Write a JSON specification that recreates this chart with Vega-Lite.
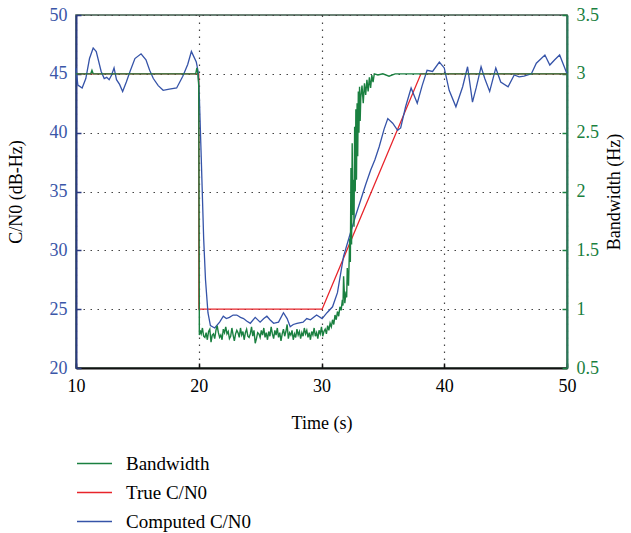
{
  "$schema": "https://vega.github.io/schema/vega-lite/v6.json",
  "width": 491,
  "height": 353,
  "autosize": {"type": "none"},
  "padding": {"left": 76, "top": 15, "right": 64, "bottom": 165},
  "background": "white",
  "config": {
    "font": "Liberation Serif",
    "view": {"stroke": "#3d5a4a", "strokeWidth": 1.5},
    "axis": {"labelFont": "Liberation Serif", "titleFont": "Liberation Serif", "titleFontWeight": "normal", "labelFontSize": 18, "titleFontSize": 18, "tickSize": -5, "tickWidth": 1.5, "domainWidth": 2, "gridDash": [1.5, 5.5], "gridColor": "#444", "gridWidth": 1.2, "titleColor": "black"},
    "legend": {"labelFont": "Liberation Serif", "labelFontSize": 19}
  },
  "data": {"values": [
    {"t": 10, "v": 45, "s": "True C/N0"},
    {"t": 20, "v": 45, "s": "True C/N0"},
    {"t": 20.01, "v": 25, "s": "True C/N0"},
    {"t": 30.05, "v": 25, "s": "True C/N0"},
    {"t": 38.1, "v": 45, "s": "True C/N0"},
    {"t": 50, "v": 45, "s": "True C/N0"},

    {"t": 10, "v": 45.5, "s": "Computed C/N0"},
    {"t": 10.15, "v": 44.05, "s": "Computed C/N0"},
    {"t": 10.5, "v": 43.8, "s": "Computed C/N0"},
    {"t": 10.8, "v": 44.6, "s": "Computed C/N0"},
    {"t": 11.1, "v": 46.3, "s": "Computed C/N0"},
    {"t": 11.4, "v": 47.2, "s": "Computed C/N0"},
    {"t": 11.65, "v": 46.9, "s": "Computed C/N0"},
    {"t": 12.05, "v": 45.2, "s": "Computed C/N0"},
    {"t": 12.3, "v": 44.6, "s": "Computed C/N0"},
    {"t": 12.5, "v": 44.7, "s": "Computed C/N0"},
    {"t": 12.7, "v": 44.5, "s": "Computed C/N0"},
    {"t": 12.9, "v": 44.9, "s": "Computed C/N0"},
    {"t": 13.1, "v": 45.5, "s": "Computed C/N0"},
    {"t": 13.3, "v": 44.5, "s": "Computed C/N0"},
    {"t": 13.55, "v": 44.1, "s": "Computed C/N0"},
    {"t": 13.8, "v": 43.5, "s": "Computed C/N0"},
    {"t": 14.1, "v": 44.3, "s": "Computed C/N0"},
    {"t": 14.4, "v": 45.2, "s": "Computed C/N0"},
    {"t": 14.8, "v": 46.3, "s": "Computed C/N0"},
    {"t": 15.3, "v": 46.7, "s": "Computed C/N0"},
    {"t": 15.7, "v": 46.2, "s": "Computed C/N0"},
    {"t": 16.0, "v": 45.3, "s": "Computed C/N0"},
    {"t": 16.3, "v": 44.6, "s": "Computed C/N0"},
    {"t": 16.7, "v": 44.0, "s": "Computed C/N0"},
    {"t": 17.1, "v": 43.6, "s": "Computed C/N0"},
    {"t": 17.6, "v": 43.7, "s": "Computed C/N0"},
    {"t": 18.2, "v": 43.8, "s": "Computed C/N0"},
    {"t": 18.7, "v": 44.8, "s": "Computed C/N0"},
    {"t": 19.1, "v": 45.8, "s": "Computed C/N0"},
    {"t": 19.4, "v": 46.9, "s": "Computed C/N0"},
    {"t": 19.8, "v": 46.0, "s": "Computed C/N0"},
    {"t": 19.95, "v": 45.2, "s": "Computed C/N0"},
    {"t": 20.05, "v": 43.0, "s": "Computed C/N0"},
    {"t": 20.2, "v": 38.0, "s": "Computed C/N0"},
    {"t": 20.4, "v": 31.0, "s": "Computed C/N0"},
    {"t": 20.55, "v": 27.5, "s": "Computed C/N0"},
    {"t": 20.75, "v": 24.7, "s": "Computed C/N0"},
    {"t": 20.95, "v": 23.6, "s": "Computed C/N0"},
    {"t": 21.3, "v": 23.4, "s": "Computed C/N0"},
    {"t": 21.7, "v": 23.9, "s": "Computed C/N0"},
    {"t": 22.0, "v": 24.4, "s": "Computed C/N0"},
    {"t": 22.25, "v": 24.2, "s": "Computed C/N0"},
    {"t": 22.5, "v": 24.3, "s": "Computed C/N0"},
    {"t": 22.8, "v": 24.5, "s": "Computed C/N0"},
    {"t": 23.1, "v": 24.5, "s": "Computed C/N0"},
    {"t": 23.4, "v": 24.3, "s": "Computed C/N0"},
    {"t": 23.65, "v": 24.2, "s": "Computed C/N0"},
    {"t": 23.9, "v": 24.0, "s": "Computed C/N0"},
    {"t": 24.2, "v": 23.8, "s": "Computed C/N0"},
    {"t": 24.6, "v": 24.3, "s": "Computed C/N0"},
    {"t": 25.0, "v": 23.9, "s": "Computed C/N0"},
    {"t": 25.3, "v": 24.2, "s": "Computed C/N0"},
    {"t": 25.55, "v": 24.4, "s": "Computed C/N0"},
    {"t": 25.8, "v": 24.1, "s": "Computed C/N0"},
    {"t": 26.1, "v": 23.8, "s": "Computed C/N0"},
    {"t": 26.5, "v": 23.9, "s": "Computed C/N0"},
    {"t": 26.9, "v": 24.7, "s": "Computed C/N0"},
    {"t": 27.2, "v": 24.2, "s": "Computed C/N0"},
    {"t": 27.45, "v": 23.5, "s": "Computed C/N0"},
    {"t": 27.7, "v": 23.7, "s": "Computed C/N0"},
    {"t": 28.0, "v": 23.8, "s": "Computed C/N0"},
    {"t": 28.5, "v": 23.9, "s": "Computed C/N0"},
    {"t": 28.8, "v": 24.2, "s": "Computed C/N0"},
    {"t": 29.1, "v": 24.1, "s": "Computed C/N0"},
    {"t": 29.6, "v": 24.5, "s": "Computed C/N0"},
    {"t": 30.05, "v": 24.2, "s": "Computed C/N0"},
    {"t": 30.45, "v": 24.7, "s": "Computed C/N0"},
    {"t": 30.9, "v": 25.2, "s": "Computed C/N0"},
    {"t": 31.3, "v": 26.4, "s": "Computed C/N0"},
    {"t": 31.8, "v": 29.5, "s": "Computed C/N0"},
    {"t": 32.35, "v": 31.45, "s": "Computed C/N0"},
    {"t": 32.8, "v": 33.0, "s": "Computed C/N0"},
    {"t": 33.2, "v": 34.3, "s": "Computed C/N0"},
    {"t": 33.6, "v": 35.6, "s": "Computed C/N0"},
    {"t": 34.0, "v": 36.8, "s": "Computed C/N0"},
    {"t": 34.35, "v": 37.7, "s": "Computed C/N0"},
    {"t": 34.7, "v": 38.8, "s": "Computed C/N0"},
    {"t": 35.1, "v": 40.3, "s": "Computed C/N0"},
    {"t": 35.4, "v": 41.2, "s": "Computed C/N0"},
    {"t": 35.8, "v": 40.8, "s": "Computed C/N0"},
    {"t": 36.2, "v": 40.2, "s": "Computed C/N0"},
    {"t": 36.45, "v": 40.4, "s": "Computed C/N0"},
    {"t": 36.85, "v": 42.2, "s": "Computed C/N0"},
    {"t": 37.3, "v": 43.8, "s": "Computed C/N0"},
    {"t": 37.8, "v": 42.5, "s": "Computed C/N0"},
    {"t": 38.2, "v": 44.0, "s": "Computed C/N0"},
    {"t": 38.6, "v": 45.3, "s": "Computed C/N0"},
    {"t": 39.05, "v": 45.2, "s": "Computed C/N0"},
    {"t": 39.6, "v": 46.0, "s": "Computed C/N0"},
    {"t": 40.0, "v": 45.5, "s": "Computed C/N0"},
    {"t": 40.4, "v": 43.6, "s": "Computed C/N0"},
    {"t": 40.95, "v": 42.2, "s": "Computed C/N0"},
    {"t": 41.5, "v": 43.9, "s": "Computed C/N0"},
    {"t": 41.9, "v": 45.6, "s": "Computed C/N0"},
    {"t": 42.3, "v": 42.6, "s": "Computed C/N0"},
    {"t": 42.6, "v": 43.8, "s": "Computed C/N0"},
    {"t": 43.0, "v": 45.6, "s": "Computed C/N0"},
    {"t": 43.3, "v": 44.6, "s": "Computed C/N0"},
    {"t": 43.7, "v": 43.5, "s": "Computed C/N0"},
    {"t": 44.2, "v": 45.5, "s": "Computed C/N0"},
    {"t": 44.6, "v": 44.3, "s": "Computed C/N0"},
    {"t": 45.2, "v": 43.9, "s": "Computed C/N0"},
    {"t": 45.7, "v": 44.9, "s": "Computed C/N0"},
    {"t": 46.1, "v": 44.75, "s": "Computed C/N0"},
    {"t": 46.5, "v": 44.8, "s": "Computed C/N0"},
    {"t": 47.1, "v": 45.0, "s": "Computed C/N0"},
    {"t": 47.5, "v": 45.9, "s": "Computed C/N0"},
    {"t": 48.2, "v": 46.6, "s": "Computed C/N0"},
    {"t": 48.6, "v": 45.75, "s": "Computed C/N0"},
    {"t": 49.0, "v": 46.2, "s": "Computed C/N0"},
    {"t": 49.4, "v": 46.6, "s": "Computed C/N0"},
    {"t": 50.0, "v": 45.0, "s": "Computed C/N0"},

    {"t": 10, "v": 3.0, "s": "Bandwidth"},
    {"t": 11.2, "v": 3.0, "s": "Bandwidth"},
    {"t": 11.3, "v": 3.03, "s": "Bandwidth"},
    {"t": 11.4, "v": 3.0, "s": "Bandwidth"},
    {"t": 15, "v": 3.0, "s": "Bandwidth"},
    {"t": 19.75, "v": 3.0, "s": "Bandwidth"},
    {"t": 19.85, "v": 3.05, "s": "Bandwidth"},
    {"t": 19.93, "v": 3.0, "s": "Bandwidth"},
    {"t": 20.0, "v": 2.9, "s": "Bandwidth"},
    {"t": 20.05, "v": 0.78, "s": "Bandwidth"},
    {"t": 20.1, "v": 0.82, "s": "Bandwidth"},
    {"t": 20.2, "v": 0.79, "s": "Bandwidth"},
    {"t": 20.3, "v": 0.84, "s": "Bandwidth"},
    {"t": 20.4, "v": 0.77, "s": "Bandwidth"},
    {"t": 20.5, "v": 0.76, "s": "Bandwidth"},
    {"t": 20.6, "v": 0.80, "s": "Bandwidth"},
    {"t": 20.7, "v": 0.74, "s": "Bandwidth"},
    {"t": 20.8, "v": 0.81, "s": "Bandwidth"},
    {"t": 20.9, "v": 0.83, "s": "Bandwidth"},
    {"t": 21.0, "v": 0.72, "s": "Bandwidth"},
    {"t": 21.1, "v": 0.78, "s": "Bandwidth"},
    {"t": 21.2, "v": 0.79, "s": "Bandwidth"},
    {"t": 21.3, "v": 0.75, "s": "Bandwidth"},
    {"t": 21.4, "v": 0.82, "s": "Bandwidth"},
    {"t": 21.5, "v": 0.86, "s": "Bandwidth"},
    {"t": 21.6, "v": 0.80, "s": "Bandwidth"},
    {"t": 21.7, "v": 0.76, "s": "Bandwidth"},
    {"t": 21.8, "v": 0.78, "s": "Bandwidth"},
    {"t": 21.9, "v": 0.74, "s": "Bandwidth"},
    {"t": 22.0, "v": 0.83, "s": "Bandwidth"},
    {"t": 22.1, "v": 0.80, "s": "Bandwidth"},
    {"t": 22.2, "v": 0.85, "s": "Bandwidth"},
    {"t": 22.3, "v": 0.79, "s": "Bandwidth"},
    {"t": 22.4, "v": 0.81, "s": "Bandwidth"},
    {"t": 22.5, "v": 0.75, "s": "Bandwidth"},
    {"t": 22.6, "v": 0.77, "s": "Bandwidth"},
    {"t": 22.7, "v": 0.84, "s": "Bandwidth"},
    {"t": 22.8, "v": 0.78, "s": "Bandwidth"},
    {"t": 22.9, "v": 0.73, "s": "Bandwidth"},
    {"t": 23.0, "v": 0.79, "s": "Bandwidth"},
    {"t": 23.1, "v": 0.82, "s": "Bandwidth"},
    {"t": 23.2, "v": 0.80, "s": "Bandwidth"},
    {"t": 23.3, "v": 0.76, "s": "Bandwidth"},
    {"t": 23.4, "v": 0.84, "s": "Bandwidth"},
    {"t": 23.5, "v": 0.78, "s": "Bandwidth"},
    {"t": 23.6, "v": 0.81, "s": "Bandwidth"},
    {"t": 23.7, "v": 0.74, "s": "Bandwidth"},
    {"t": 23.8, "v": 0.80, "s": "Bandwidth"},
    {"t": 23.9, "v": 0.83, "s": "Bandwidth"},
    {"t": 24.0, "v": 0.77, "s": "Bandwidth"},
    {"t": 24.1, "v": 0.76, "s": "Bandwidth"},
    {"t": 24.2, "v": 0.79, "s": "Bandwidth"},
    {"t": 24.3, "v": 0.85, "s": "Bandwidth"},
    {"t": 24.4, "v": 0.77, "s": "Bandwidth"},
    {"t": 24.5, "v": 0.82, "s": "Bandwidth"},
    {"t": 24.6, "v": 0.71, "s": "Bandwidth"},
    {"t": 24.7, "v": 0.75, "s": "Bandwidth"},
    {"t": 24.8, "v": 0.80, "s": "Bandwidth"},
    {"t": 24.9, "v": 0.79, "s": "Bandwidth"},
    {"t": 25.0, "v": 0.76, "s": "Bandwidth"},
    {"t": 25.1, "v": 0.82, "s": "Bandwidth"},
    {"t": 25.2, "v": 0.78, "s": "Bandwidth"},
    {"t": 25.3, "v": 0.84, "s": "Bandwidth"},
    {"t": 25.4, "v": 0.76, "s": "Bandwidth"},
    {"t": 25.5, "v": 0.80, "s": "Bandwidth"},
    {"t": 25.6, "v": 0.74, "s": "Bandwidth"},
    {"t": 25.7, "v": 0.81, "s": "Bandwidth"},
    {"t": 25.8, "v": 0.77, "s": "Bandwidth"},
    {"t": 25.9, "v": 0.85, "s": "Bandwidth"},
    {"t": 26.0, "v": 0.79, "s": "Bandwidth"},
    {"t": 26.1, "v": 0.75, "s": "Bandwidth"},
    {"t": 26.2, "v": 0.82, "s": "Bandwidth"},
    {"t": 26.3, "v": 0.78, "s": "Bandwidth"},
    {"t": 26.4, "v": 0.84, "s": "Bandwidth"},
    {"t": 26.5, "v": 0.76, "s": "Bandwidth"},
    {"t": 26.6, "v": 0.80, "s": "Bandwidth"},
    {"t": 26.7, "v": 0.73, "s": "Bandwidth"},
    {"t": 26.8, "v": 0.79, "s": "Bandwidth"},
    {"t": 26.9, "v": 0.83, "s": "Bandwidth"},
    {"t": 27.0, "v": 0.77, "s": "Bandwidth"},
    {"t": 27.1, "v": 0.81, "s": "Bandwidth"},
    {"t": 27.2, "v": 0.87, "s": "Bandwidth"},
    {"t": 27.3, "v": 0.75, "s": "Bandwidth"},
    {"t": 27.4, "v": 0.80, "s": "Bandwidth"},
    {"t": 27.5, "v": 0.78, "s": "Bandwidth"},
    {"t": 27.6, "v": 0.82, "s": "Bandwidth"},
    {"t": 27.7, "v": 0.74, "s": "Bandwidth"},
    {"t": 27.8, "v": 0.79, "s": "Bandwidth"},
    {"t": 27.9, "v": 0.76, "s": "Bandwidth"},
    {"t": 28.0, "v": 0.83, "s": "Bandwidth"},
    {"t": 28.1, "v": 0.78, "s": "Bandwidth"},
    {"t": 28.2, "v": 0.81, "s": "Bandwidth"},
    {"t": 28.3, "v": 0.75, "s": "Bandwidth"},
    {"t": 28.4, "v": 0.80, "s": "Bandwidth"},
    {"t": 28.5, "v": 0.77, "s": "Bandwidth"},
    {"t": 28.6, "v": 0.84, "s": "Bandwidth"},
    {"t": 28.7, "v": 0.79, "s": "Bandwidth"},
    {"t": 28.8, "v": 0.82, "s": "Bandwidth"},
    {"t": 28.9, "v": 0.76, "s": "Bandwidth"},
    {"t": 29.0, "v": 0.80, "s": "Bandwidth"},
    {"t": 29.1, "v": 0.74, "s": "Bandwidth"},
    {"t": 29.2, "v": 0.81, "s": "Bandwidth"},
    {"t": 29.3, "v": 0.78, "s": "Bandwidth"},
    {"t": 29.4, "v": 0.84, "s": "Bandwidth"},
    {"t": 29.5, "v": 0.77, "s": "Bandwidth"},
    {"t": 29.6, "v": 0.80, "s": "Bandwidth"},
    {"t": 29.7, "v": 0.75, "s": "Bandwidth"},
    {"t": 29.8, "v": 0.82, "s": "Bandwidth"},
    {"t": 29.9, "v": 0.79, "s": "Bandwidth"},
    {"t": 30.0, "v": 0.85, "s": "Bandwidth"},
    {"t": 30.1, "v": 0.77, "s": "Bandwidth"},
    {"t": 30.2, "v": 0.81, "s": "Bandwidth"},
    {"t": 30.3, "v": 0.83, "s": "Bandwidth"},
    {"t": 30.4, "v": 0.79, "s": "Bandwidth"},
    {"t": 30.5, "v": 0.86, "s": "Bandwidth"},
    {"t": 30.6, "v": 0.82, "s": "Bandwidth"},
    {"t": 30.7, "v": 0.88, "s": "Bandwidth"},
    {"t": 30.8, "v": 0.85, "s": "Bandwidth"},
    {"t": 30.9, "v": 0.91, "s": "Bandwidth"},
    {"t": 31.0, "v": 0.87, "s": "Bandwidth"},
    {"t": 31.1, "v": 0.95, "s": "Bandwidth"},
    {"t": 31.2, "v": 0.91, "s": "Bandwidth"},
    {"t": 31.3, "v": 0.98, "s": "Bandwidth"},
    {"t": 31.4, "v": 0.94, "s": "Bandwidth"},
    {"t": 31.5, "v": 1.02, "s": "Bandwidth"},
    {"t": 31.6, "v": 0.99, "s": "Bandwidth"},
    {"t": 31.7, "v": 1.08, "s": "Bandwidth"},
    {"t": 31.75, "v": 1.03, "s": "Bandwidth"},
    {"t": 31.8, "v": 1.28, "s": "Bandwidth"},
    {"t": 31.9, "v": 1.05, "s": "Bandwidth"},
    {"t": 32.0, "v": 1.15, "s": "Bandwidth"},
    {"t": 32.05, "v": 1.10, "s": "Bandwidth"},
    {"t": 32.1, "v": 1.35, "s": "Bandwidth"},
    {"t": 32.2, "v": 1.20, "s": "Bandwidth"},
    {"t": 32.3, "v": 1.60, "s": "Bandwidth"},
    {"t": 32.35, "v": 1.40, "s": "Bandwidth"},
    {"t": 32.4, "v": 2.20, "s": "Bandwidth"},
    {"t": 32.45, "v": 1.55, "s": "Bandwidth"},
    {"t": 32.5, "v": 2.41, "s": "Bandwidth"},
    {"t": 32.55, "v": 1.80, "s": "Bandwidth"},
    {"t": 32.6, "v": 2.10, "s": "Bandwidth"},
    {"t": 32.65, "v": 1.70, "s": "Bandwidth"},
    {"t": 32.7, "v": 2.55, "s": "Bandwidth"},
    {"t": 32.75, "v": 2.00, "s": "Bandwidth"},
    {"t": 32.8, "v": 2.70, "s": "Bandwidth"},
    {"t": 32.85, "v": 2.10, "s": "Bandwidth"},
    {"t": 32.9, "v": 2.75, "s": "Bandwidth"},
    {"t": 32.95, "v": 2.30, "s": "Bandwidth"},
    {"t": 33.0, "v": 2.85, "s": "Bandwidth"},
    {"t": 33.05, "v": 2.50, "s": "Bandwidth"},
    {"t": 33.1, "v": 2.89, "s": "Bandwidth"},
    {"t": 33.15, "v": 2.60, "s": "Bandwidth"},
    {"t": 33.2, "v": 2.80, "s": "Bandwidth"},
    {"t": 33.3, "v": 2.90, "s": "Bandwidth"},
    {"t": 33.4, "v": 2.75, "s": "Bandwidth"},
    {"t": 33.5, "v": 2.92, "s": "Bandwidth"},
    {"t": 33.6, "v": 2.82, "s": "Bandwidth"},
    {"t": 33.7, "v": 2.95, "s": "Bandwidth"},
    {"t": 33.8, "v": 2.85, "s": "Bandwidth"},
    {"t": 33.9, "v": 2.97, "s": "Bandwidth"},
    {"t": 34.0, "v": 2.88, "s": "Bandwidth"},
    {"t": 34.1, "v": 2.99, "s": "Bandwidth"},
    {"t": 34.2, "v": 2.93, "s": "Bandwidth"},
    {"t": 34.3, "v": 3.0, "s": "Bandwidth"},
    {"t": 34.6, "v": 2.99, "s": "Bandwidth"},
    {"t": 35.0, "v": 3.0, "s": "Bandwidth"},
    {"t": 35.5, "v": 2.98, "s": "Bandwidth"},
    {"t": 36.0, "v": 3.0, "s": "Bandwidth"},
    {"t": 38.0, "v": 3.0, "s": "Bandwidth"},
    {"t": 44.0, "v": 3.0, "s": "Bandwidth"},
    {"t": 50.0, "v": 3.0, "s": "Bandwidth"}
  ]},
  "encoding": {
    "x": {"field": "t", "type": "quantitative", "scale": {"domain": [10, 50], "nice": false, "zero": false},
      "axis": {"title": "Time (s)", "values": [10, 20, 30, 40, 50], "grid": true, "labelColor": "black", "domainColor": "#111", "tickColor": "#111", "labelPadding": 14, "titleY": 46, "labelFlush": false}},
    "color": {"field": "s", "type": "nominal",
      "scale": {"domain": ["Bandwidth", "True C/N0", "Computed C/N0"], "range": ["#1a8040", "#e8242b", "#3553a8"]},
      "legend": {"title": null, "orient": "none", "legendX": 0, "legendY": 430, "symbolType": "stroke", "symbolSize": 1225, "symbolStrokeWidth": 1.3, "labelOffset": 13, "rowPadding": -8, "labelColor": "black"}}
  },
  "layer": [
    {
      "transform": [{"filter": "datum.s != 'Bandwidth'"}],
      "mark": {"type": "line", "strokeWidth": 1.3, "interpolate": "linear"},
      "encoding": {
        "y": {"field": "v", "type": "quantitative", "scale": {"domain": [20, 50], "nice": false, "zero": false},
          "axis": {"title": "C/N0 (dB-Hz)", "orient": "left", "values": [20, 25, 30, 35, 40, 45, 50], "grid": true, "labelColor": "#3a56a8", "domainColor": "#2a3a80", "tickColor": "#2a3a80", "labelPadding": 14, "titleX": -51, "labelFlush": false}}
      }
    },
    {
      "transform": [{"filter": "datum.s == 'Bandwidth'"}],
      "mark": {"type": "line", "strokeWidth": 1.4},
      "encoding": {
        "y": {"field": "v", "type": "quantitative", "scale": {"domain": [0.5, 3.5], "nice": false, "zero": false},
          "axis": {"title": "Bandwidth (Hz)", "orient": "right", "values": [0.5, 1, 1.5, 2, 2.5, 3, 3.5], "format": "~g", "grid": false, "labelColor": "#1a8040", "domainColor": "#2a7a5a", "tickColor": "#1a8040", "labelPadding": 14, "titleAngle": 270, "titleX": 56, "labelFlush": false}}
      }
    }
  ],
  "resolve": {"scale": {"y": "independent"}}
}
